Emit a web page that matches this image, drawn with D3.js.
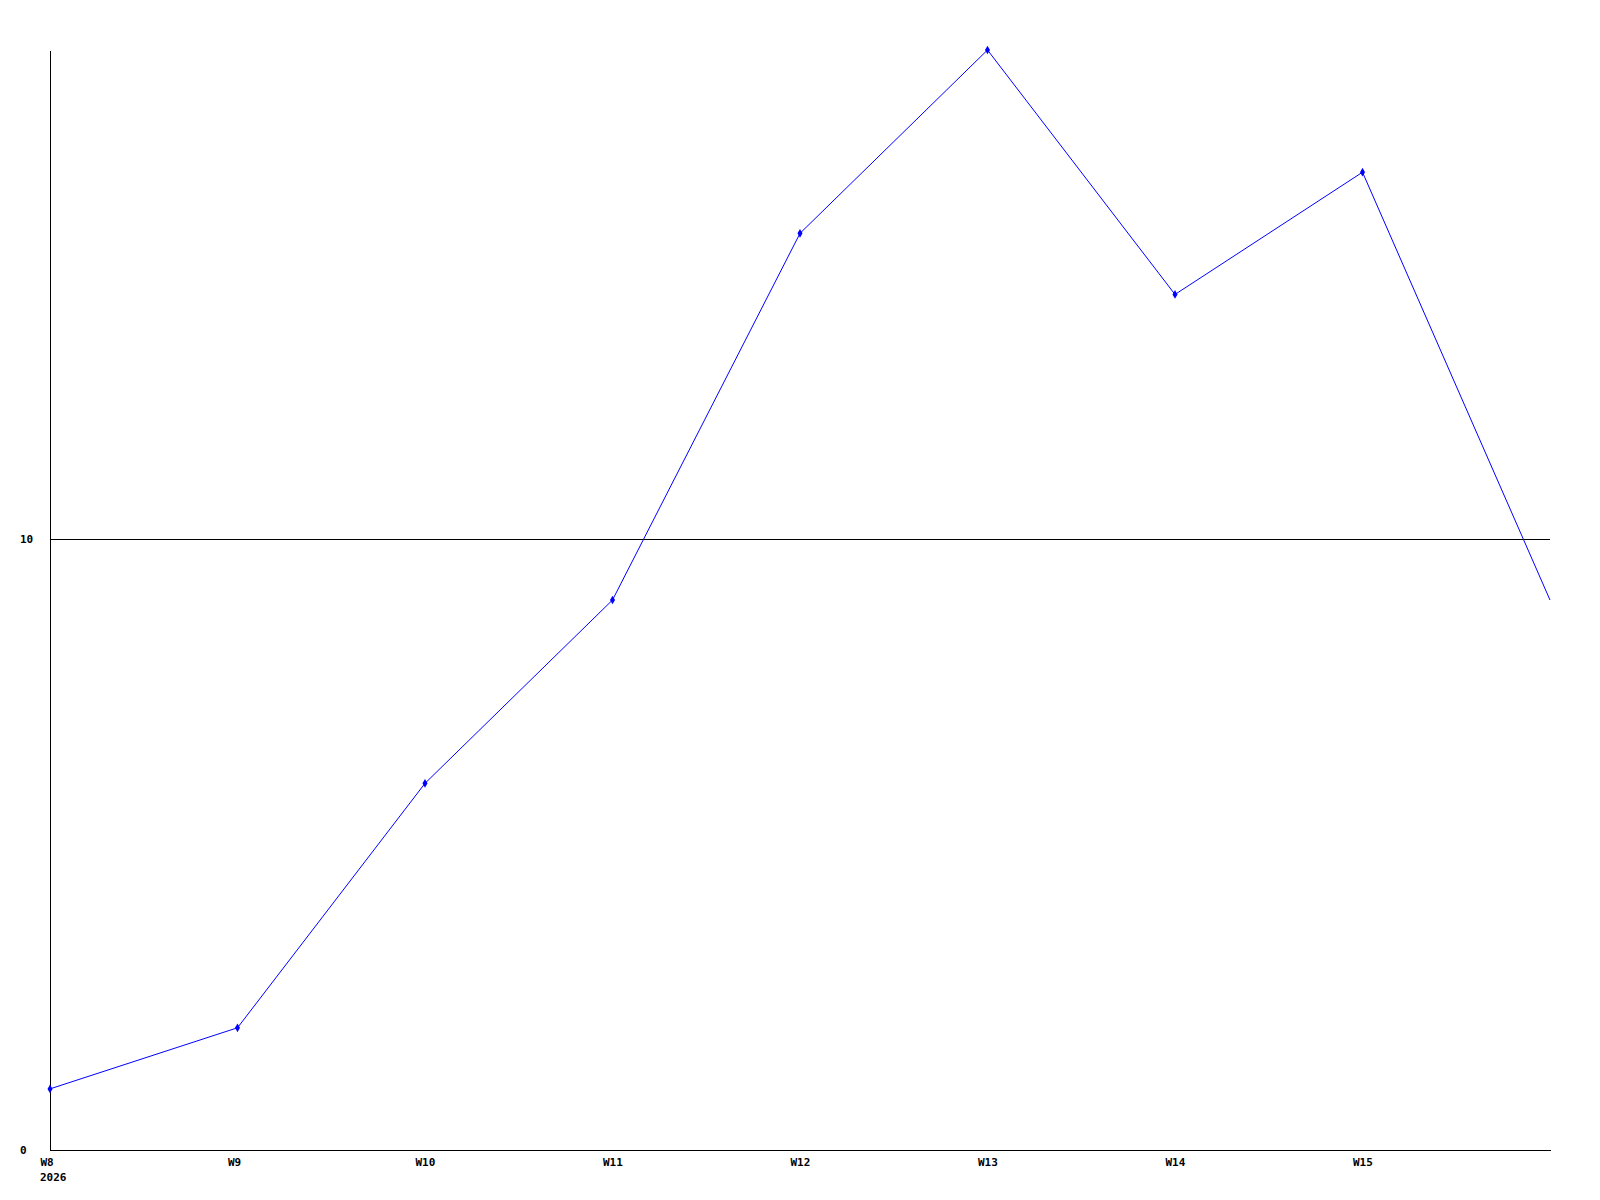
<!DOCTYPE html>
<meta charset="utf-8">
<style>
    body { margin: 0; background: #fff; }
    text {
        font-family: "DejaVu Sans Mono", "Liberation Mono", monospace;
        font-weight: bold;
        font-size: 11px;
        fill: #000;
    }
    .axis path, .axis line { stroke: #000; shape-rendering: crispEdges; }
    .grid line { stroke: #000; shape-rendering: crispEdges; }
    .grid path { stroke-width: 0; }
    .line { fill: none; stroke: #0000ff; stroke-width: 1px; }
    .dot { fill: #0000ff; }
</style>
<body>
    <svg width="1600" height="1200"></svg>
</body>
<script src="https://d3js.org/d3.v7.min.js"></script>
<script>
    // weeks and values
    var weeks = ["W8", "W9", "W10", "W11", "W12", "W13", "W14", "W15", "W16"];
    var values = [1, 2, 6, 9, 15, 18, 14, 16, 9];
    var yTicks = [0, 10];
    var yearLabel = "2026";

    // plot box (note: "top" is taken by window.top, so use other names)
    var svg = d3.select("svg"),
        plotLeft = 50, plotRight = 1550, plotTop = 50, plotBottom = 1150;

    var x = d3.scalePoint()
        .domain(weeks)
        .range([plotLeft, plotRight]);

    var y = d3.scaleLinear()
        .domain([0, 18])
        .range([plotBottom, plotTop]);

    // horizontal grid line at 10
    svg.append("g")
        .attr("class", "grid")
        .attr("transform", "translate(" + plotLeft + ",0)")
        .call(d3.axisLeft(y).tickValues([10]).tickSize(-(plotRight - plotLeft)).tickFormat(""));

    // x axis (no tick marks, labels start a bit left of the tick)
    var xAxis = svg.append("g")
        .attr("class", "axis")
        .attr("transform", "translate(0," + plotBottom + ")")
        .call(d3.axisBottom(x).tickValues(weeks.slice(0, -1)).tickSize(0).tickSizeOuter(0));
    xAxis.selectAll(".tick text")
        .attr("text-anchor", "start")
        .attr("x", -10)
        .attr("y", 16)
        .attr("dy", null);
    xAxis.append("text")
        .attr("x", x(weeks[0]) - 10)
        .attr("y", 31)
        .attr("text-anchor", "start")
        .text(yearLabel);

    // y axis line with labels at the far left
    var yAxis = svg.append("g")
        .attr("class", "axis")
        .attr("transform", "translate(" + plotLeft + ",0)")
        .call(d3.axisLeft(y).tickValues(yTicks).tickSize(0).tickSizeOuter(0).tickFormat(d3.format("d")));
    yAxis.selectAll(".tick text")
        .attr("text-anchor", "start")
        .attr("x", -30)
        .attr("dy", "0.32em");

    var line = d3.line()
        .x(function (d, i) { return x(weeks[i]); })
        .y(function (d) { return y(d); });

    svg.append("path")
        .datum(values)
        .attr("class", "line")
        .attr("d", line);

    // small diamond markers, the last point sits on the edge and has none
    svg.selectAll(".dot")
        .data(values.slice(0, -1))
        .enter().append("path")
        .attr("class", "dot")
        .attr("d", d3.symbol().type(d3.symbolDiamond).size(22))
        .attr("transform", function (d, i) { return "translate(" + x(weeks[i]) + "," + y(d) + ")"; });
</script>
